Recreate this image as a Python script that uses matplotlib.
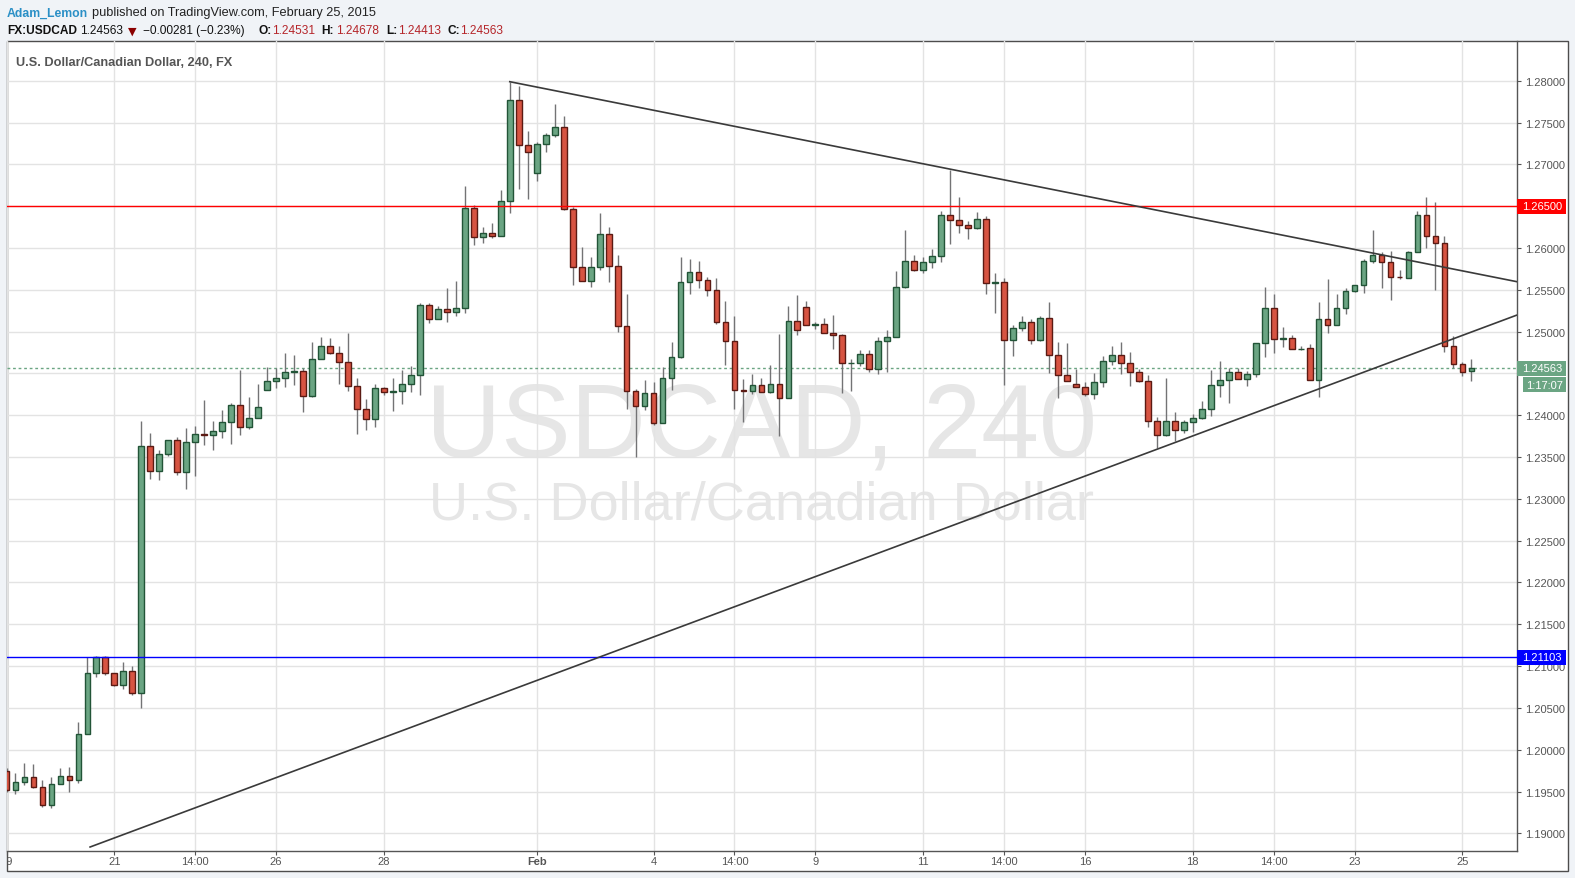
import matplotlib
matplotlib.use("Agg")
import matplotlib.pyplot as plt
from matplotlib.patches import Rectangle
import matplotlib.transforms as mtrans
import numpy as np

# ---------------- data (USD/CAD, 240 min bars) ----------------
opens = [1.19747, 1.19519, 1.19619, 1.19679, 1.19559, 1.19340, 1.19595, 1.19691, 1.19643, 1.20194,
         1.20912, 1.21103, 1.20912, 1.20780, 1.20936, 1.20684, 1.23629, 1.23330, 1.23533, 1.23701,
         1.23318, 1.23677, 1.23773, 1.23765, 1.23817, 1.23924, 1.24127, 1.23865, 1.23972, 1.24307,
         1.24414, 1.24450, 1.24522, 1.24534, 1.24235, 1.24677, 1.24833, 1.24749, 1.24641, 1.24351,
         1.24080, 1.23960, 1.24331, 1.24280, 1.24290, 1.24378, 1.24482, 1.25323, 1.25151, 1.25275,
         1.25235, 1.25287, 1.26482, 1.26135, 1.26183, 1.26147, 1.26566, 1.27773, 1.27227, 1.26900,
         1.27247, 1.27355, 1.27450, 1.26470, 1.25777, 1.25610, 1.25777, 1.26171, 1.25789, 1.25068,
         1.24292, 1.24113, 1.24260, 1.23910, 1.24447, 1.24698, 1.25594, 1.25713, 1.25614, 1.25498,
         1.25116, 1.24889, 1.24300, 1.24290, 1.24364, 1.24280, 1.24376, 1.24209, 1.25128, 1.25295,
         1.25080, 1.25092, 1.24984, 1.24960, 1.24626, 1.24630, 1.24734, 1.24547, 1.24889, 1.24937,
         1.25533, 1.25844, 1.25736, 1.25832, 1.25903, 1.26393, 1.26333, 1.26273, 1.26237, 1.26345,
         1.25585, 1.25590, 1.24901, 1.25044, 1.25120, 1.24900, 1.25168, 1.24724, 1.24484, 1.24376,
         1.24340, 1.24256, 1.24400, 1.24652, 1.24724, 1.24628, 1.24520, 1.24412, 1.23932, 1.23764,
         1.23932, 1.23824, 1.23920, 1.23968, 1.24076, 1.24364, 1.24417, 1.24512, 1.24429, 1.24488,
         1.24869, 1.25286, 1.24917, 1.24929, 1.24786, 1.24798, 1.24417, 1.25155, 1.25083, 1.25286,
         1.25488, 1.25560, 1.25845, 1.25917, 1.25833, 1.25655, 1.25643, 1.25952, 1.26393, 1.26147,
         1.26056, 1.24825, 1.24610, 1.24531]
highs = [1.19780, 1.19719, 1.19838, 1.19826, 1.19639, 1.19671, 1.19779, 1.19799, 1.20329, 1.21103,
         1.21115, 1.21115, 1.20912, 1.21055, 1.21004, 1.23928, 1.23789, 1.23581, 1.23701, 1.23741,
         1.23848, 1.23868, 1.24179, 1.23936, 1.24060, 1.24143, 1.24538, 1.24215, 1.24371, 1.24574,
         1.24562, 1.24741, 1.24717, 1.24570, 1.24873, 1.24932, 1.24920, 1.24833, 1.24980, 1.24450,
         1.24191, 1.24371, 1.24335, 1.24442, 1.24538, 1.24594, 1.25347, 1.25339, 1.25311, 1.25518,
         1.25602, 1.26745, 1.26514, 1.26255, 1.26303, 1.26689, 1.27988, 1.27940, 1.27402, 1.27271,
         1.27378, 1.27717, 1.27582, 1.26494, 1.26016, 1.25888, 1.26422, 1.26247, 1.25920, 1.25455,
         1.24312, 1.24416, 1.24392, 1.24571, 1.24881, 1.25896, 1.25873, 1.25849, 1.25654, 1.25646,
         1.25371, 1.25192, 1.24439, 1.24487, 1.24447, 1.24595, 1.24977, 1.25311, 1.25443, 1.25371,
         1.25116, 1.25168, 1.25203, 1.24976, 1.24678, 1.24785, 1.24774, 1.24937, 1.25020, 1.25724,
         1.26218, 1.25911, 1.25887, 1.25991, 1.26436, 1.26934, 1.26607, 1.26325, 1.26432, 1.26385,
         1.25704, 1.25645, 1.25084, 1.25184, 1.25148, 1.25192, 1.25352, 1.24880, 1.24860, 1.24556,
         1.24396, 1.24508, 1.24704, 1.24824, 1.24880, 1.24760, 1.24548, 1.24484, 1.23980, 1.24448,
         1.24044, 1.23948, 1.24016, 1.24176, 1.24536, 1.24644, 1.24564, 1.24560, 1.24532, 1.24869,
         1.25528, 1.25444, 1.25052, 1.24961, 1.24825, 1.24853, 1.25357, 1.25623, 1.25444, 1.25516,
         1.25560, 1.25865, 1.26218, 1.25952, 1.25968, 1.25742, 1.25968, 1.26440, 1.26614, 1.26546,
         1.26140, 1.24944, 1.24634, 1.24678]
lows = [1.19500, 1.19467, 1.19579, 1.19539, 1.19320, 1.19308, 1.19595, 1.19499, 1.19603, 1.20194,
        1.20864, 1.20896, 1.20764, 1.20728, 1.20656, 1.20505, 1.23242, 1.23230, 1.23517, 1.23290,
        1.23122, 1.23278, 1.23645, 1.23586, 1.23733, 1.23657, 1.23765, 1.23837, 1.23972, 1.24307,
        1.24331, 1.24343, 1.24363, 1.24040, 1.24220, 1.24677, 1.24729, 1.24375, 1.24291, 1.23777,
        1.23825, 1.23861, 1.24243, 1.24052, 1.24135, 1.24279, 1.24243, 1.25100, 1.25151, 1.25120,
        1.25187, 1.25219, 1.26036, 1.26064, 1.26123, 1.26147, 1.26422, 1.26705, 1.26586, 1.26801,
        1.27147, 1.27331, 1.26458, 1.25562, 1.25610, 1.25538, 1.25737, 1.25594, 1.24993, 1.24073,
        1.23500, 1.24061, 1.23882, 1.23910, 1.24300, 1.24686, 1.25455, 1.25526, 1.25423, 1.25088,
        1.24599, 1.24073, 1.23922, 1.24252, 1.24280, 1.24260, 1.23751, 1.24209, 1.24957, 1.25080,
        1.25029, 1.24985, 1.24797, 1.24264, 1.24288, 1.24591, 1.24519, 1.24491, 1.24519, 1.24937,
        1.25521, 1.25720, 1.25700, 1.25760, 1.25832, 1.26043, 1.26178, 1.26106, 1.26222, 1.25446,
        1.25219, 1.24360, 1.24706, 1.25012, 1.24852, 1.24892, 1.24508, 1.24204, 1.24412, 1.24340,
        1.24228, 1.24192, 1.24336, 1.24604, 1.24496, 1.24352, 1.24396, 1.23860, 1.23608, 1.23752,
        1.23692, 1.23788, 1.23800, 1.23956, 1.23988, 1.24216, 1.24147, 1.24429, 1.24353, 1.24461,
        1.24699, 1.24746, 1.24818, 1.24786, 1.24778, 1.24417, 1.24214, 1.24984, 1.25083, 1.25210,
        1.25472, 1.25460, 1.25821, 1.25520, 1.25377, 1.25627, 1.25643, 1.25952, 1.26000, 1.25502,
        1.24761, 1.24562, 1.24474, 1.24413]
closes = [1.19519, 1.19619, 1.19679, 1.19559, 1.19340, 1.19595, 1.19691, 1.19643, 1.20194, 1.20912,
          1.21103, 1.20912, 1.20780, 1.20936, 1.20684, 1.23629, 1.23330, 1.23533, 1.23701, 1.23318,
          1.23677, 1.23773, 1.23765, 1.23817, 1.23924, 1.24127, 1.23865, 1.23972, 1.24104, 1.24414,
          1.24450, 1.24522, 1.24530, 1.24235, 1.24677, 1.24833, 1.24749, 1.24641, 1.24351, 1.24080,
          1.23960, 1.24331, 1.24283, 1.24290, 1.24378, 1.24486, 1.25323, 1.25151, 1.25275, 1.25235,
          1.25287, 1.26482, 1.26135, 1.26183, 1.26147, 1.26566, 1.27773, 1.27227, 1.27151, 1.27247,
          1.27355, 1.27450, 1.26470, 1.25777, 1.25610, 1.25777, 1.26171, 1.25789, 1.25068, 1.24292,
          1.24113, 1.24260, 1.23910, 1.24447, 1.24698, 1.25594, 1.25713, 1.25614, 1.25498, 1.25116,
          1.24889, 1.24304, 1.24290, 1.24364, 1.24280, 1.24376, 1.24209, 1.25128, 1.25021, 1.25080,
          1.25090, 1.24985, 1.24960, 1.24626, 1.24630, 1.24734, 1.24547, 1.24889, 1.24937, 1.25533,
          1.25844, 1.25736, 1.25832, 1.25903, 1.26393, 1.26333, 1.26273, 1.26237, 1.26345, 1.25581,
          1.25590, 1.24901, 1.25044, 1.25120, 1.24900, 1.25168, 1.24724, 1.24484, 1.24412, 1.24340,
          1.24256, 1.24400, 1.24652, 1.24724, 1.24628, 1.24520, 1.24412, 1.23932, 1.23764, 1.23932,
          1.23824, 1.23920, 1.23968, 1.24076, 1.24364, 1.24417, 1.24512, 1.24429, 1.24488, 1.24869,
          1.25286, 1.24917, 1.24920, 1.24786, 1.24790, 1.24417, 1.25155, 1.25083, 1.25286, 1.25488,
          1.25560, 1.25845, 1.25917, 1.25833, 1.25655, 1.25650, 1.25952, 1.26393, 1.26147, 1.26056,
          1.24825, 1.24610, 1.24514, 1.24563]

tick_pos = [0, 12, 21, 30, 42, 59, 72, 81, 90, 102, 111, 120, 132, 141, 150, 162]
tick_labels = ['19', '21', '14:00', '26', '28', 'Feb', '4', '14:00', '9', '11',
               '14:00', '16', '18', '14:00', '23', '25']
price_ticks = [1.19, 1.195, 1.20, 1.205, 1.21, 1.215, 1.22, 1.225, 1.23, 1.235,
               1.24, 1.245, 1.25, 1.255, 1.26, 1.265, 1.27, 1.275, 1.28]

resistance = 1.26500
support = 1.21103
last_close = 1.24563
countdown = '1:17:07'
upper_line_x = [56, 168]
upper_line_y = [1.27988, 1.25598]
lower_line_x = [9.3, 168]
lower_line_y = [1.18837, 1.25195]

# ---------------- figure ----------------
W, H = 1575, 879
BG = '#f0f3f7'
fig = plt.figure(figsize=(W / 100, H / 100), dpi=100, facecolor=BG)

def fx(px):
    return px / W

def fy(py):
    return 1 - py / H

# panel
panel = Rectangle((fx(6.5), fy(872)), fx(1568 - 6.5), (872 - 42) / H,
                  transform=fig.transFigure, facecolor='white',
                  edgecolor='#4d4d4d', linewidth=1, zorder=-5)
fig.patches.append(panel)

ax_l, ax_r, ax_b, ax_t = 6.5, 1516.7, 851.7, 42
ax = fig.add_axes([fx(ax_l), fy(ax_b), fx(ax_r - ax_l), (ax_b - ax_t) / H])
ax.set_zorder(2)
ax.set_facecolor('none')

X0, X1 = 0.244, 168.04
Y0, Y1 = 1.187928, 1.284747
ax.set_xlim(X0, X1)
ax.set_ylim(Y0, Y1)

# grid
ax.set_axisbelow(True)
ax.grid(True, color='#e3e3e3', linewidth=1)

# watermark
wm_font = 'Liberation Sans'
ax.text(0.5, 0.4875, 'USDCAD, 240', transform=ax.transAxes, ha='center',
        va='baseline', fontsize=75, color='#e6e6e6', family=wm_font, zorder=0.5)
ax.text(0.5, 0.4097, 'U.S. Dollar/Canadian Dollar', transform=ax.transAxes,
        ha='center', va='baseline', fontsize=39, color='#e6e6e6', family=wm_font,
        zorder=0.5)

# last price dotted line
ax.axhline(last_close, color='#6ba583', linestyle=(0, (2, 2)), linewidth=1, zorder=1.5)

# candles
o = np.array(opens); h = np.array(highs); l = np.array(lows); c = np.array(closes)
x = np.arange(len(o))
up = c >= o
ax.vlines(x, l, h, color='#737375', linewidth=1, zorder=2)
body_bot = np.minimum(o, c)
body_h = np.maximum(np.abs(c - o), 0.00003)
fill = np.where(up, '#6ba583', '#d75442')
edge = np.where(up, '#225437', '#5b1a13')
ax.bar(x, body_h, bottom=body_bot, width=0.64, color=fill, edgecolor=edge,
       linewidth=1, zorder=3)

# horizontal levels
ax.axhline(resistance, color='#ff0000', linewidth=1, zorder=4)
ax.axhline(support, color='#0000ff', linewidth=1, zorder=4)

# trend lines
ax.plot(upper_line_x, upper_line_y, color='#3a3a3a', linewidth=1.2, zorder=5)
ax.plot(lower_line_x, lower_line_y, color='#3a3a3a', linewidth=1.2, zorder=5)

# axes styling
for s in ['left', 'top']:
    ax.spines[s].set_visible(False)
for s in ['right', 'bottom']:
    ax.spines[s].set_color('#555555')
    ax.spines[s].set_linewidth(1)
ax.yaxis.tick_right()
ax.set_yticks(price_ticks)
# labels hidden under the price boxes are left blank
covered = {1.245, 1.265}
ax.set_yticklabels(['' if round(p, 3) in covered else '%.5f' % p for p in price_ticks])
ax.set_xticks(tick_pos)
ax.set_xticklabels(tick_labels)
lab_font = 'Liberation Sans'
ax.tick_params(axis='y', length=3, color='#555555', labelsize=8, labelcolor='#555555',
               pad=3)
ax.tick_params(axis='x', length=3, color='#555555', labelsize=8, labelcolor='#555555',
               pad=1)
for t in ax.get_yticklabels() + ax.get_xticklabels():
    t.set_family(lab_font)
for t in ax.get_xticklabels():
    if t.get_text() == 'Feb':
        t.set_fontweight('bold')
ax.get_xticklabels()[0].set_clip_path(panel)

# right-axis price labels
ppu = (ax_b - ax_t) / (Y1 - Y0)  # pixels per price unit
blend = mtrans.blended_transform_factory(fig.transFigure, ax.transData)

def price_box(price, text, color, x0=1516.5, x1=1566, tx=1522, hpx=15):
    hh = hpx / ppu
    r = Rectangle((fx(x0), price - hh / 2), fx(x1 - x0), hh, transform=blend,
                  facecolor=color, edgecolor='none', zorder=10)
    ax.add_patch(r)
    r.set_clip_on(False)
    ax.text(fx(tx), price, text, transform=blend, ha='left', va='center',
            color='white', fontsize=8, family=lab_font, zorder=11, clip_on=False)

price_box(resistance, '%.5f' % resistance, '#ff0000')
price_box(support, '%.5f' % support, '#0000ff')
price_box(last_close, '%.5f' % last_close, '#6ba583')
price_box(last_close - 16.4 / ppu, countdown, '#6ba583', x0=1523, tx=1526, hpx=14.5)

# in-chart title
fig.text(fx(15.7), fy(65.5), 'U.S. Dollar/Canadian Dollar, 240, FX', fontsize=9.2,
         fontweight='bold', color='#555555', family='Liberation Sans', va='baseline',
         zorder=5)

# header
hdr = 'Liberation Sans'
fig.text(fx(6.7), fy(16.3), 'Adam_Lemon', fontsize=8.8, color='#2a8fc6',
         fontweight='bold', family=hdr, va='baseline')
fig.text(fx(92.5), fy(16.3), 'published on TradingView.com, February 25, 2015',
         fontsize=9.2, color='#222222', family=hdr, va='baseline')

red_val = '#b5252a'
row = [
    (7.3, 'FX:USDCAD', '#111111', 'bold'),
    (80, '1.24563', '#111111', 'normal'),
    (143.3, '\u22120.00281 (\u22120.23%)', '#111111', 'normal'),
    (258.3, 'O:', '#111111', 'bold'),
    (272.3, '1.24531', red_val, 'normal'),
    (321.7, 'H:', '#111111', 'bold'),
    (335.7, '1.24678', red_val, 'normal'),
    (386.7, 'L:', '#111111', 'bold'),
    (397.7, '1.24413', red_val, 'normal'),
    (447.7, 'C:', '#111111', 'bold'),
    (460, '1.24563', red_val, 'normal'),
]
for px, txt, col, wt in row:
    fig.text(fx(px), fy(34.3), txt, fontsize=8.6, color=col, fontweight=wt,
             family=hdr, va='baseline')
fig.text(fx(132.7), fy(34.3), '\u25bc', fontsize=8, color='#8b0000',
         family=['DejaVu Sans'], va='baseline', ha='center')

fig.savefig('out.png', dpi=100, facecolor=BG)
